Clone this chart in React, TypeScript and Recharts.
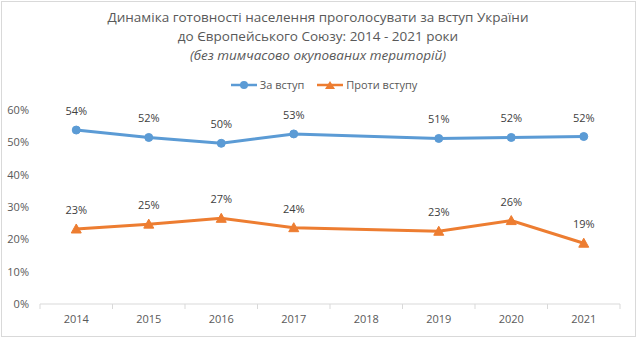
import { LineChart, Line, XAxis, YAxis, LabelList } from 'recharts';

const years = ['2014', '2015', '2016', '2017', '2018', '2019', '2020', '2021'];
const forJoining = [53.8, 51.5, 49.7, 52.6, null, 51.2, 51.5, 51.8];
const againstJoining = [23.2, 24.7, 26.5, 23.6, null, 22.5, 25.8, 18.8];
const yTicks = [0, 10, 20, 30, 40, 50, 60];

const titleLines = [
  'Динаміка готовності населення проголосувати за вступ України',
  'до Європейського Союзу: 2014  - 2021  роки',
];
const subtitle = '(без тимчасово окупованих територій)';

const data = years.map((year, i) => ({
  year,
  za: forJoining[i],
  proty: againstJoining[i],
}));

const BLUE = '#5b9bd5';
const ORANGE = '#ed7d31';
const TEXT = '#595959';
const FONT = '"Open Sans", "Noto Sans", sans-serif';
const HALF_BAND = 36.25;

const fmt = (v: any) => (v == null ? '' : `${Math.round(Number(v))}%`);

const Triangle = (props: any) => {
  const { cx, cy } = props;
  if (cx == null || cy == null) return null;
  return (
    <path
      d={`M${cx},${cy - 5} L${cx + 5},${cy + 4} L${cx - 5},${cy + 4} Z`}
      fill={ORANGE}
      stroke={ORANGE}
    />
  );
};

const XTick = (props: any) => {
  const { x, y, payload, index } = props;
  return (
    <g>
      <line x1={x - HALF_BAND} y1={y - 8} x2={x - HALF_BAND} y2={y - 3} stroke='#d9d9d9' />
      {index === years.length - 1 && (
        <line x1={x + HALF_BAND} y1={y - 8} x2={x + HALF_BAND} y2={y - 3} stroke='#d9d9d9' />
      )}
      <text x={x} y={y + 11} textAnchor='middle' fill={TEXT} fontSize={11} fontFamily={FONT}>
        {payload.value}
      </text>
    </g>
  );
};

const LegendBox = () => (
  <div
    style={{
      position: 'absolute',
      left: 4,
      top: 77,
      width: 640,
      display: 'flex',
      justifyContent: 'center',
      alignItems: 'center',
      gap: 13,
      fontFamily: FONT,
      fontSize: 11,
      color: TEXT,
    }}
  >
    <span style={{ display: 'flex', alignItems: 'center', gap: 3 }}>
      <svg width={26} height={10}>
        <line x1={0} y1={5} x2={26} y2={5} stroke={BLUE} strokeWidth={2.5} />
        <circle cx={13} cy={5} r={4} fill={BLUE} />
      </svg>
      За вступ
    </span>
    <span style={{ display: 'flex', alignItems: 'center', gap: 3 }}>
      <svg width={26} height={10}>
        <line x1={0} y1={5} x2={26} y2={5} stroke={ORANGE} strokeWidth={2.5} />
        <path d='M13,1 L18,9 L8,9 Z' fill={ORANGE} />
      </svg>
      Проти вступу
    </span>
  </div>
);

const App = () => {
  return (
    <div style={{ position: 'absolute', left: 0, top: 0, width: 644, height: 356, background: '#fff' }}>
      <div
        style={{
          position: 'absolute',
          left: 1,
          top: 1,
          width: 633,
          height: 334,
          border: '1px solid #d9d9d9',
        }}
      />
      <div
        style={{
          position: 'absolute',
          left: 0,
          top: 8,
          width: 636,
          textAlign: 'center',
          fontFamily: FONT,
          fontSize: 13.5,
          lineHeight: '19px',
          color: TEXT,
        }}
      >
        {titleLines.map((t) => (
          <div key={t}>{t}</div>
        ))}
        <div style={{ fontStyle: 'italic' }}>{subtitle}</div>
      </div>
      <LegendBox />
      <div style={{ position: 'absolute', left: 0, top: 0 }}>
        <LineChart
          width={644}
          height={356}
          data={data}
          margin={{ top: 110, right: 24, left: 0, bottom: 22 }}
        >
          <XAxis
            dataKey='year'
            height={30}
            padding={{ left: HALF_BAND, right: HALF_BAND }}
            axisLine={{ stroke: '#d9d9d9' }}
            tickLine={false}
            tick={<XTick />}
            interval={0}
          />
          <YAxis
            width={40}
            domain={[0, 60]}
            ticks={yTicks}
            axisLine={false}
            tickLine={false}
            tickMargin={5}
            tickFormatter={(v: number) => `${v}%`}
            tick={{ fill: TEXT, fontSize: 11, fontFamily: FONT }}
          />
          <Line
            dataKey='za'
            name='За вступ'
            stroke={BLUE}
            strokeWidth={3}
            dot={{ r: 4, fill: BLUE, stroke: BLUE, strokeWidth: 1 }}
            activeDot={false}
            connectNulls
            isAnimationActive={false}
          >
            <LabelList
              dataKey='za'
              position='top'
              offset={15}
              formatter={fmt}
              fill='#404040'
              fontSize={11}
              fontFamily={FONT}
            />
          </Line>
          <Line
            dataKey='proty'
            name='Проти вступу'
            stroke={ORANGE}
            strokeWidth={3}
            dot={<Triangle />}
            activeDot={false}
            connectNulls
            isAnimationActive={false}
          >
            <LabelList
              dataKey='proty'
              position='top'
              offset={15}
              formatter={fmt}
              fill='#404040'
              fontSize={11}
              fontFamily={FONT}
            />
          </Line>
        </LineChart>
      </div>
    </div>
  );
};

export default App;
